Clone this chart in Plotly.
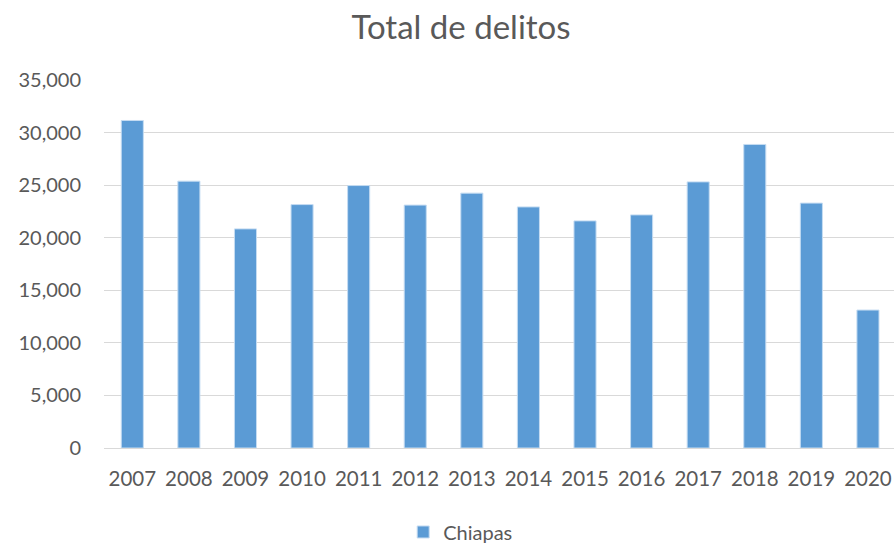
import plotly.graph_objects as go

years = ["2007", "2008", "2009", "2010", "2011", "2012", "2013",
         "2014", "2015", "2016", "2017", "2018", "2019", "2020"]
chiapas = [31150, 25380, 20840, 23150, 24960, 23100, 24240,
           22930, 21600, 22170, 25310, 28870, 23290, 13120]
y_ticks = [0, 5000, 10000, 15000, 20000, 25000, 30000, 35000]

FONT = "Lato"
GREY = "#595959"

W, H = 894, 543

fig = go.Figure()
fig.add_trace(go.Bar(
    x=years, y=chiapas, name="Chiapas",
    marker=dict(color="#5B9BD5", line=dict(color="#c5dcf2", width=1)),
))

fig.update_layout(
    width=W, height=H,
    margin=dict(l=104, r=0, t=80, b=95),
    paper_bgcolor="white", plot_bgcolor="white",
    bargap=0.61,
    font=dict(family=FONT, color=GREY, size=20),
    title=dict(text="Total de delitos", x=0.5157, xref="container", xanchor="center",
               y=0.950, yref="container", yanchor="middle",
               font=dict(family=FONT, size=33, color=GREY)),
    showlegend=True,
    legend=dict(orientation="h", x=0.5153, xanchor="center", xref="container",
                y=0.0203, yref="container", yanchor="middle",
                font=dict(family=FONT, size=20, color=GREY),
                itemwidth=30),
    xaxis=dict(type="category", range=[-0.5, 13.46], showgrid=False,
               ticks="", ticklabelstandoff=16, tickfont=dict(size=20.5, color=GREY),
               showline=False),
    yaxis=dict(range=[0, 35000], tickvals=y_ticks, tickformat=",d",
               showgrid=True, gridcolor="#d9d9d9", gridwidth=1.3,
               zeroline=True, zerolinecolor="#d9d9d9", zerolinewidth=1.3,
               ticks="", ticklabelstandoff=22, tickfont=dict(size=20, color=GREY)),
)

fig.write_html(
    "out.html",
    config={"displayModeBar": False},
    post_script="document.body.style.margin='0';document.documentElement.style.overflow='hidden';",
)
